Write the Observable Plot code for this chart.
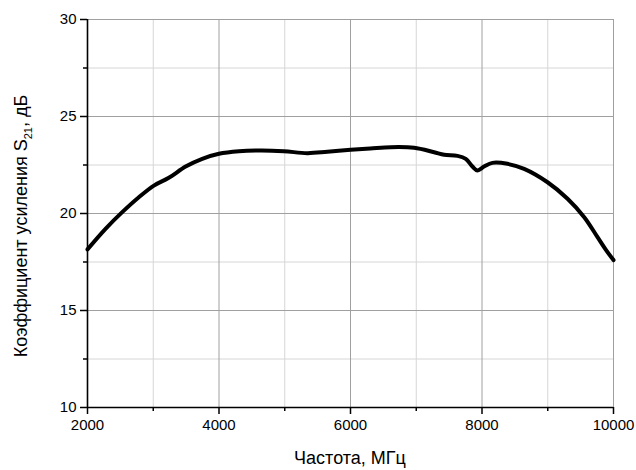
<!DOCTYPE html>
<html>
<head>
<meta charset="utf-8">
<script src="https://cdn.jsdelivr.net/npm/d3@7"></script>
<script src="https://cdn.jsdelivr.net/npm/@observablehq/plot@0.6"></script>
<style>
body { margin: 0; background: #fff; }
svg { font-family: "Liberation Sans", Arial, sans-serif; }
</style>
</head>
<body>
<div id="chart"></div>
<script>
const freq = [2000, 2274, 2528, 2781, 3010, 3237, 3492, 3745, 3999, 4303, 4650, 4988, 5343, 5648, 6003, 6300, 6612, 6967, 7272, 7425, 7627, 7753, 7855, 7931, 8032, 8159, 8387, 8641, 8997, 9301, 9555, 9757, 9890, 10000];
const gain = [18.15, 19.21, 20.07, 20.84, 21.44, 21.84, 22.42, 22.82, 23.08, 23.21, 23.25, 23.21, 23.11, 23.18, 23.28, 23.35, 23.42, 23.39, 23.16, 23.03, 22.97, 22.82, 22.42, 22.22, 22.42, 22.61, 22.56, 22.30, 21.61, 20.76, 19.81, 18.78, 18.1, 17.6];
const xMajor = [2000, 4000, 6000, 8000, 10000];
const xMinor = [3000, 5000, 7000, 9000];
const yMajor = [10, 15, 20, 25, 30];
const yMinor = [12.5, 17.5, 22.5, 27.5];
const xTitle = "Частота, МГц";
const yTitleParts = ["Коэффициент усиления S", "21", ", дБ"];

const data = freq.map((f, i) => ({f, g: gain[i]}));

const chart = Plot.plot({
  width: 636,
  height: 470,
  marginLeft: 87,
  marginRight: 23,
  marginTop: 19,
  marginBottom: 63,
  style: {fontFamily: "Liberation Sans, Arial, sans-serif", fontSize: "15px", color: "#000"},
  x: {domain: [2000, 10000]},
  y: {domain: [10, 30]},
  marks: [
    Plot.gridX(xMinor, {stroke: "#d6d6d6", strokeOpacity: 1, strokeWidth: 1}),
    Plot.gridY(yMinor, {stroke: "#d6d6d6", strokeOpacity: 1, strokeWidth: 1}),
    Plot.gridX(xMajor, {stroke: "#a0a0a0", strokeOpacity: 1, strokeWidth: 1}),
    Plot.gridY(yMajor, {stroke: "#a0a0a0", strokeOpacity: 1, strokeWidth: 1}),
    Plot.axisX({ticks: xMajor, tickSize: 7, tickPadding: 5, tickFormat: d => String(d), label: null, fontSize: 15, strokeWidth: 1.5}),
    Plot.axisX({ticks: xMinor, tickSize: 4, tickFormat: () => "", label: null, strokeWidth: 1.5}),
    Plot.axisY({ticks: yMajor, tickSize: 7, tickPadding: 4, tickFormat: d => String(d), label: null, fontSize: 15, strokeWidth: 1.5}),
    Plot.axisY({ticks: yMinor, tickSize: 4, tickFormat: () => "", label: null, strokeWidth: 1.5}),
    Plot.ruleX([2000], {stroke: "#000", strokeWidth: 1.6}),
    Plot.ruleY([10], {stroke: "#000", strokeWidth: 1.6}),
    Plot.line(data, {x: "f", y: "g", stroke: "#000", strokeWidth: 4, curve: "catmull-rom", strokeLinejoin: "round", strokeLinecap: "round"})
  ]
});

const svg = d3.select(chart);
svg.append("text")
  .attr("x", 350).attr("y", 464)
  .attr("text-anchor", "middle")
  .attr("font-size", 18)
  .attr("fill", "#000")
  .text(xTitle);

const yt = svg.append("text")
  .attr("transform", "translate(27,226) rotate(-90)")
  .attr("text-anchor", "middle")
  .attr("font-size", 18)
  .attr("fill", "#000");
yt.append("tspan").text(yTitleParts[0]);
yt.append("tspan").attr("font-size", 11).attr("dy", 5).text(yTitleParts[1]);
yt.append("tspan").attr("dy", -5).text(yTitleParts[2]);

document.getElementById("chart").appendChild(chart);
</script>
</body>
</html>
